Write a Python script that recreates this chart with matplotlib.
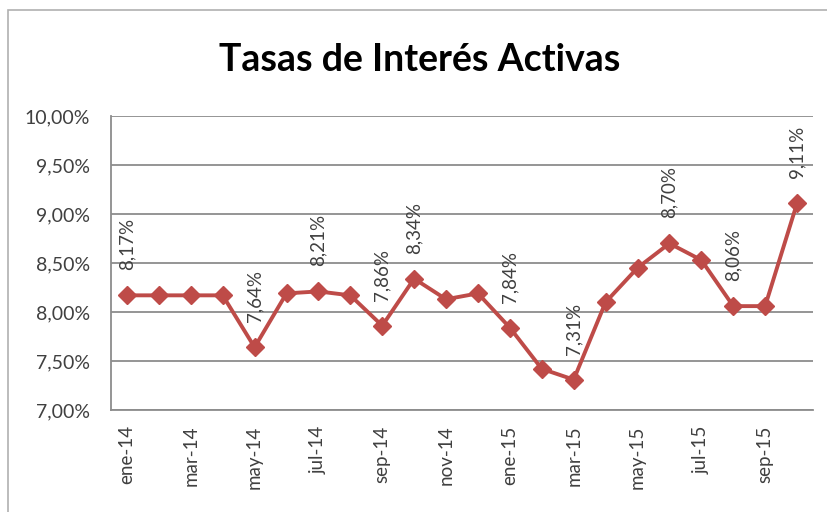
import matplotlib.pyplot as plt
from matplotlib.patches import Rectangle

# Tasas de interés activas, ene-14 .. oct-15 (%)
meses = ["ene-14", "feb-14", "mar-14", "abr-14", "may-14", "jun-14", "jul-14", "ago-14",
         "sep-14", "oct-14", "nov-14", "dic-14", "ene-15", "feb-15", "mar-15", "abr-15",
         "may-15", "jun-15", "jul-15", "ago-15", "sep-15", "oct-15"]
tasas = [8.17, 8.17, 8.17, 8.17, 7.64, 8.19, 8.21, 8.17, 7.86, 8.34, 8.13, 8.19,
         7.84, 7.42, 7.31, 8.10, 8.45, 8.70, 8.53, 8.06, 8.06, 9.11]
# meses que llevan etiqueta de dato
etiquetados = [0, 4, 6, 8, 9, 12, 14, 17, 19, 21]
yticks = [7.0, 7.5, 8.0, 8.5, 9.0, 9.5, 10.0]

plt.rcParams["font.family"] = ["Lato", "DejaVu Sans"]
RED = "#BE4B48"
TXT = "#404040"
GRID = "#8c8c8c"

fig = plt.figure(figsize=(8.28, 5.12), dpi=100)
ax = fig.add_axes([111 / 828, 1 - 410 / 512, (813 - 111) / 828, (410 - 116) / 512])

x = list(range(len(tasas)))
ax.plot(x, tasas, color=RED, lw=2.8, marker="D", ms=9, mfc=RED, mec=RED, zorder=3)

for i in etiquetados:
    lab = f"{tasas[i]:.2f}%".replace(".", ",")
    ax.annotate(lab, (i, tasas[i]), xytext=(0, 18), textcoords="offset points",
                rotation=90, ha="center", va="bottom", fontsize=13.5, color=TXT)

ax.set_xlim(-0.5, len(tasas) - 0.5)
ax.set_ylim(7.0, 10.0)
ax.set_yticks(yticks)
ax.set_yticklabels([f"{v:.2f}%".replace(".", ",") for v in yticks], fontsize=14, color=TXT)
ax.set_xticks(x[::2])
ax.set_xticklabels(meses[::2], rotation=90, fontsize=13.5, color=TXT)
ax.tick_params(axis="both", length=0)
ax.tick_params(axis="y", pad=15)
ax.tick_params(axis="x", pad=11)

ax.grid(axis="y", color=GRID, lw=1.3)
ax.set_axisbelow(True)
for s in ["top", "right"]:
    ax.spines[s].set_visible(False)
for s in ["left", "bottom"]:
    ax.spines[s].set_color(GRID)
    ax.spines[s].set_linewidth(1.3)

fig.text(0.507, 1 - 60 / 512, "Tasas de Interés Activas", ha="center", va="center",
         fontsize=27, fontweight="bold", color="black")

# borde del gráfico (recortado a la derecha y abajo)
fig.add_artist(Rectangle((8 / 828, -0.1), 1.2, 1.1 - 10 / 512, transform=fig.transFigure,
                         fill=False, edgecolor="#b0b0b0", lw=1.2))

plt.savefig("out.png", dpi=100)
